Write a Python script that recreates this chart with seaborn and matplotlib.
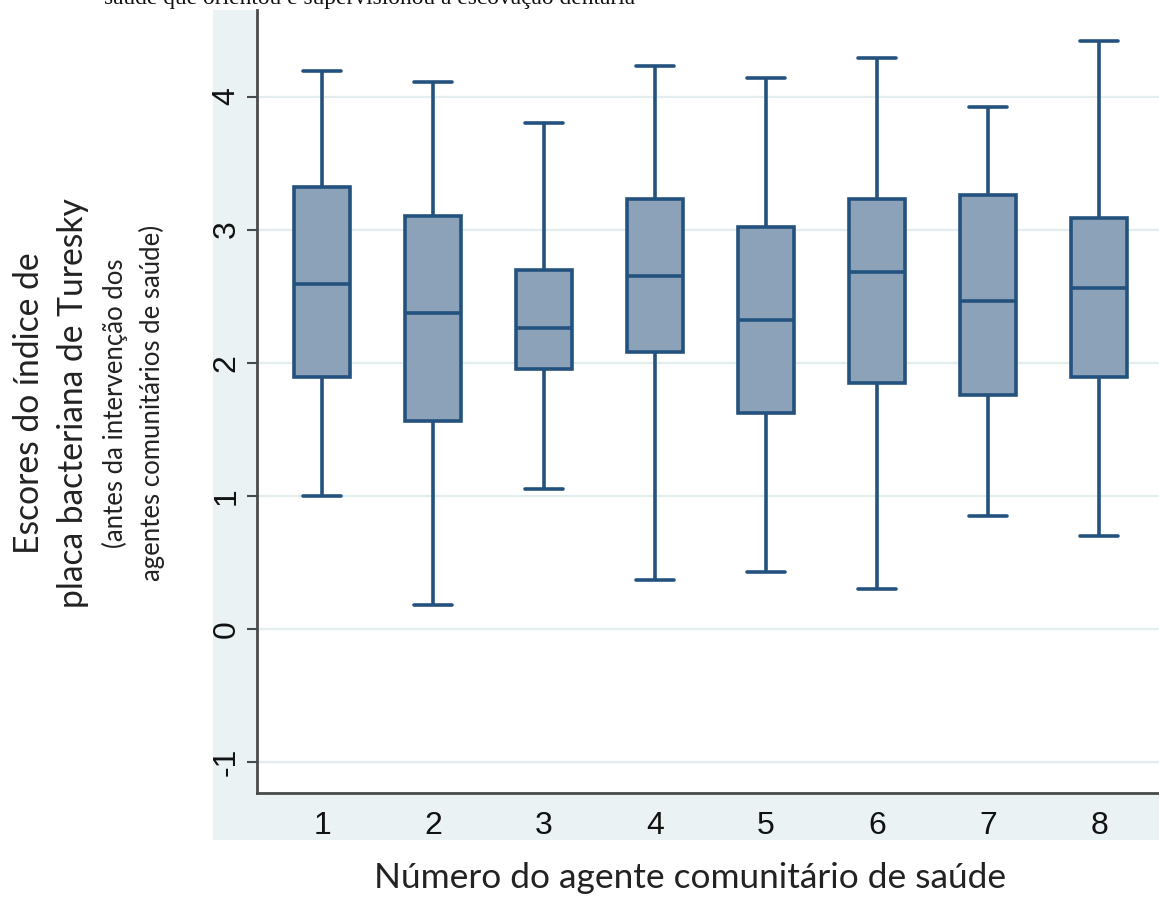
import numpy as np
import pandas as pd
import matplotlib
matplotlib.use("Agg")
import matplotlib.pyplot as plt
from matplotlib.patches import Rectangle
import seaborn as sns

# Five-number summaries of the Turesky plaque index, per community health agent
agentes = ["1", "2", "3", "4", "5", "6", "7", "8"]
minimo = [1.00, 0.18, 1.05, 0.37, 0.43, 0.30, 0.85, 0.70]
q1 = [1.89, 1.56, 1.95, 2.08, 1.62, 1.85, 1.76, 1.89]
mediana = [2.59, 2.37, 2.26, 2.65, 2.32, 2.68, 2.46, 2.56]
q3 = [3.32, 3.10, 2.70, 3.23, 3.02, 3.23, 3.26, 3.09]
maximo = [4.19, 4.11, 3.80, 4.23, 4.14, 4.29, 3.92, 4.42]

yticks = [-1, 0, 1, 2, 3, 4]

rows = []
for a, lo, a1, md, a3, hi in zip(agentes, minimo, q1, mediana, q3, maximo):
    for v in (lo, a1, md, a3, hi):
        rows.append({"agente": a, "escore": v})
df = pd.DataFrame(rows)

sns.set_theme(style="white")
plt.rcParams["font.family"] = ["Liberation Sans", "DejaVu Sans"]

W, H = 1159, 898
fig = plt.figure(figsize=(W / 100, H / 100), dpi=100)
fig.patch.set_facecolor("white")

# Stata-like light outer region, drawn behind the plot panel
fig.patches.append(Rectangle((213 / W, 1 - 840 / H), 1 - 213 / W, (840 - 10) / H,
                             transform=fig.transFigure, facecolor="#EAF2F3",
                             edgecolor="none", zorder=-10))

ax = fig.add_axes([257 / W, 1 - 793 / H, 1 - 257 / W, (793 - 10) / H])
ax.set_facecolor("white")
ax.set_zorder(1)

fill_c = "#8CA2B8"
edge_c = "#24527F"
sns.boxplot(data=df, x="agente", y="escore", order=agentes, whis=(0, 100),
            width=0.5, color=fill_c, saturation=1, linecolor=edge_c,
            linewidth=2.6, showfliers=False, capwidths=0.34, ax=ax)

ax.set_xlim(-0.586, 7.54)
ax.set_ylim(-1.233, 4.65)
ax.set_yticks(yticks)
ax.set_yticklabels([str(t) for t in yticks], rotation=90, va="center")
ax.yaxis.grid(True, color="#E3EDF0", linewidth=1.6)
ax.set_axisbelow(True)

for s in ("top", "right"):
    ax.spines[s].set_visible(False)
for s in ("left", "bottom"):
    ax.spines[s].set_color("#4A4A4A")
    ax.spines[s].set_linewidth(2.0)

ax.tick_params(axis="y", which="major", left=True, length=7, width=1.5,
               color="#4A4A4A", labelsize=23, pad=4, labelcolor="#111111")
ax.tick_params(axis="x", which="major", bottom=False, length=0,
               labelsize=23, pad=13, labelcolor="#111111")
ax.set_xlabel("")
ax.set_ylabel("")

lab_font = ["Lato", "DejaVu Sans"]
fig.text(690 / W, 1 - 878 / H, "Número do agente comunitário de saúde",
         ha="center", va="center", fontsize=25.4, family=lab_font, color="#222222")

yc = 1 - 403 / H
fig.text(29 / W, yc, "Escores do índice de", rotation=90, ha="center",
         va="center", fontsize=24.2, family=lab_font, color="#222222")
fig.text(73 / W, yc, "placa bacteriana de Turesky", rotation=90, ha="center",
         va="center", fontsize=24.2, family=lab_font, color="#222222")
fig.text(115 / W, yc, "(antes da intervenção dos", rotation=90, ha="center",
         va="center", fontsize=18.5, family=lab_font, color="#222222")
fig.text(152 / W, yc, "agentes comunitários de saúde)", rotation=90, ha="center",
         va="center", fontsize=18.5, family=lab_font, color="#222222")

# caption line running above the panel
fig.text(370 / W, 1 - 4 / H, "saúde que orientou e supervisionou a escovação dentária",
         ha="center", va="baseline", fontsize=16.9,
         family=["Liberation Serif", "DejaVu Serif"], color="#111111")

fig.savefig("out.png", dpi=100, facecolor="white")
